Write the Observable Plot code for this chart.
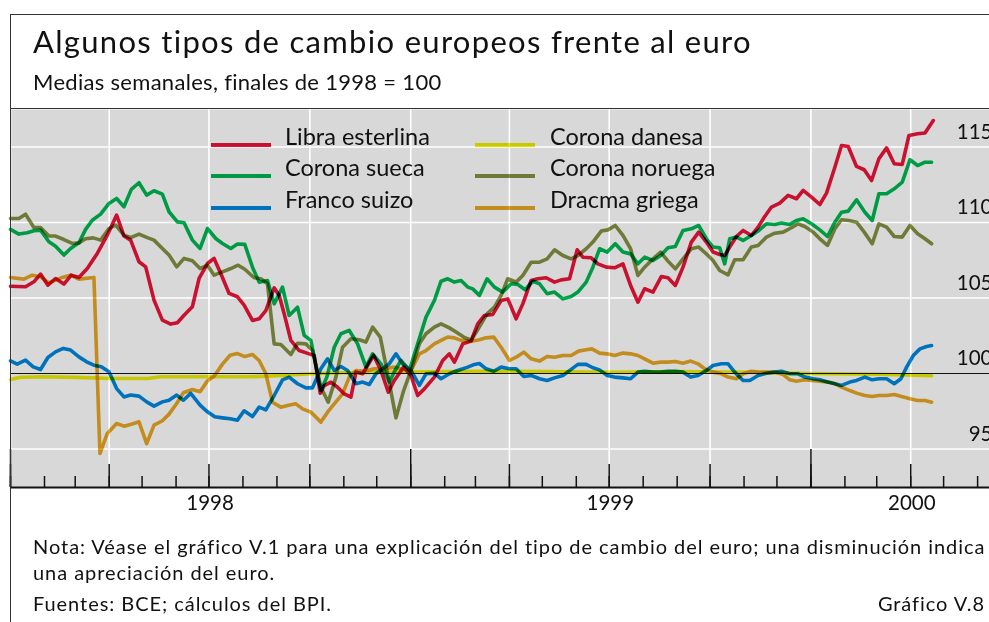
<!DOCTYPE html>
<html><head><meta charset="utf-8">
<script src="https://cdn.jsdelivr.net/npm/d3@7"></script>
<script src="https://cdn.jsdelivr.net/npm/@observablehq/plot@0.6"></script>
<style>
html,body{margin:0;padding:0;background:#fff;overflow:hidden;width:989px;height:622px;}
body{position:relative;font-family:Lato,"Open Sans",sans-serif;color:#111;}
.t{position:absolute;white-space:nowrap;}
</style></head><body>
<div id="chart" style="position:absolute;left:0;top:109px;width:1040px"></div>
<div id="overlay"></div>
<div style="position:absolute;left:10px;top:14px;width:1200px;height:800px;border-top:1.5px solid #333;border-left:1.5px solid #333;pointer-events:none"></div>
<div style="position:absolute;left:10px;top:108px;width:1200px;border-top:1px solid #333"></div>
<script>
// ---- data (months since 1 Jan 1998, index: end-1998 = 100) ----
const seriesNames = ["Libra esterlina","Corona sueca","Franco suizo","Corona danesa","Corona noruega","Dracma griega"];
const seriesColors = ["#ec1337","#00b651","#0087de","#ecec00","#839042","#e7a523"];

const libra = [[0,105.78],[0.45,105.74],[0.7,106.07],[0.9,106.58],[1.12,105.85],[1.35,106.29],[1.6,105.92],[1.82,106.51],[2.05,106.36],[2.3,106.95],[2.6,107.95],[2.9,109.16],[3.18,110.49],[3.4,109.1],[3.6,108.83],[3.85,107.4],[4.05,107.06],[4.3,104.86],[4.55,103.53],[4.8,103.27],[5,103.36],[5.2,103.86],[5.45,104.42],[5.65,106.29],[5.9,107.28],[6.1,107.62],[6.3,106.62],[6.55,105.3],[6.8,105.08],[7,104.53],[7.25,103.51],[7.45,103.62],[7.65,104.17],[7.9,105.67],[8.05,105.17],[8.2,103.95],[8.4,102.19],[8.65,101.52],[8.95,101.3],[9.1,101.19],[9.28,98.7],[9.4,99.2],[9.6,99.43],[9.8,99.09],[10,98.65],[10.2,98.43],[10.35,100.09],[10.55,99.98],[10.88,101.19],[11.1,100.2],[11.32,98.76],[11.5,99.54],[11.78,100.42],[12,99.87],[12.2,98.54],[12.4,98.98],[12.7,99.76],[12.95,100.86],[13.15,101.3],[13.3,100.75],[13.55,101.96],[13.8,102.15],[14,103.29],[14.2,103.84],[14.45,103.91],[14.7,104.83],[14.9,104.94],[15.15,103.62],[15.35,104.61],[15.6,106.16],[15.8,106.27],[16.05,106.34],[16.3,106.05],[16.5,106.2],[16.75,106.27],[16.98,108.19],[17.15,107.7],[17.4,107.66],[17.6,107.26],[17.85,107.04],[18.1,107],[18.35,107.26],[18.58,105.83],[18.8,104.72],[19,105.61],[19.25,105.39],[19.5,106.42],[19.7,106.34],[19.92,105.83],[20.15,107.04],[20.4,108.7],[20.62,109.36],[20.85,108.7],[21.05,108.04],[21.25,107.88],[21.4,107.81],[21.55,108.37],[21.75,109.07],[21.95,109.47],[22.2,109.14],[22.4,109.69],[22.6,110.4],[22.8,111.02],[23.05,111.28],[23.3,111.79],[23.55,111.57],[23.75,112.12],[24,111.68],[24.25,111.19],[24.45,111.94],[24.7,113.66],[24.9,115.1],[25.1,115.03],[25.35,113.71],[25.58,113.49],[25.8,112.78],[26.02,114.22],[26.25,114.94],[26.48,113.89],[26.72,113.84],[26.92,115.76],[27.18,115.87],[27.4,115.92],[27.65,116.75]];

const sueca = [[0,109.54],[0.25,109.23],[0.5,109.32],[0.7,109.45],[0.9,109.49],[1.15,108.72],[1.35,108.43],[1.6,107.84],[1.8,108.28],[2.05,108.65],[2.25,109.54],[2.45,110.15],[2.7,110.55],[2.95,111.26],[3.18,111.59],[3.4,111.04],[3.62,112.19],[3.85,112.63],[4.08,111.81],[4.3,112.1],[4.55,111.88],[4.75,110.71],[5,110.04],[5.2,109.98],[5.45,108.83],[5.68,108.28],[5.9,109.6],[6.15,108.94],[6.35,108.61],[6.6,108.28],[6.8,108.57],[7.02,108.55],[7.25,107.04],[7.45,106.05],[7.7,106.16],[7.9,104.61],[8.15,105.72],[8.35,103.84],[8.6,104.39],[8.8,102.52],[9,102.19],[9.3,98.87],[9.48,99.76],[9.7,101.74],[9.9,102.63],[10.15,102.85],[10.4,101.96],[10.65,100.42],[10.85,101.3],[11.1,100.64],[11.35,99.43],[11.52,100.2],[11.7,100.86],[11.95,100.2],[12.2,101.96],[12.45,103.73],[12.7,104.83],[12.9,106.11],[13.1,106.27],[13.3,106.05],[13.5,106.16],[13.7,105.72],[13.85,105.6],[14.05,105.17],[14.28,106.27],[14.5,105.72],[14.75,105.39],[15,105.94],[15.2,105.89],[15.42,105.54],[15.65,106.11],[15.85,105.94],[16.08,105.28],[16.3,105.39],[16.55,104.94],[16.8,105.1],[17,105.39],[17.25,106.05],[17.45,107.04],[17.65,108.26],[17.88,108.04],[18.12,108.59],[18.35,108.04],[18.58,107.92],[18.8,107.26],[19,107.7],[19.25,107.48],[19.48,107.81],[19.7,108.32],[19.92,108.41],[20.15,109.47],[20.4,109.58],[20.62,109.8],[20.85,108.92],[21.05,108.37],[21.25,108.32],[21.4,107.26],[21.55,108.92],[21.75,109.03],[21.95,108.81],[22.2,109.14],[22.4,109.43],[22.65,109.91],[22.9,109.87],[23.1,109.96],[23.35,109.87],[23.55,110.13],[23.75,110.24],[24,109.91],[24.25,109.51],[24.48,109.07],[24.7,110.02],[24.9,110.68],[25.1,110.75],[25.35,111.5],[25.6,110.68],[25.82,110.13],[26.02,111.9],[26.25,111.9],[26.48,112.23],[26.72,112.67],[26.95,114.15],[27.18,113.77],[27.4,113.99],[27.6,113.99]];

const suizo = [[0,100.84],[0.2,100.62],[0.45,100.88],[0.68,100.44],[0.9,100.26],[1.12,101.06],[1.35,101.43],[1.58,101.66],[1.8,101.55],[2.05,101.1],[2.28,100.77],[2.5,100.55],[2.72,100.44],[2.95,100.11],[3.18,99],[3.4,98.45],[3.6,98.57],[3.85,98.5],[4.08,98.12],[4.3,97.84],[4.55,98.12],[4.75,98.23],[4.98,98.57],[5.18,98.23],[5.4,98.68],[5.68,97.9],[5.9,97.46],[6.12,97.13],[6.35,97.06],[6.58,97],[6.8,96.91],[7,97.53],[7.25,97.15],[7.45,97.77],[7.65,97.59],[7.9,98.54],[8.15,99.58],[8.35,99.76],[8.6,99.32],[8.85,99.05],[9.05,99.05],[9.3,100.31],[9.5,100.97],[9.7,100.2],[9.9,100.46],[10.1,100.2],[10.35,99.32],[10.55,99.43],[10.75,99.27],[10.95,99.98],[11.15,100.31],[11.35,100.64],[11.55,101.3],[11.75,100.64],[12,100.2],[12.25,99.21],[12.45,99.98],[12.7,100.02],[12.9,99.65],[13.15,99.98],[13.4,100.2],[13.7,100.42],[13.9,100.6],[14.05,100.66],[14.25,100.31],[14.48,100.15],[14.7,100.42],[14.95,100.31],[15.15,100.31],[15.38,99.8],[15.6,99.87],[15.85,99.65],[16.08,99.54],[16.3,99.71],[16.55,99.87],[16.78,100.24],[17,100.6],[17.25,100.6],[17.45,100.38],[17.65,100.24],[17.88,99.87],[18.1,99.76],[18.35,99.71],[18.58,99.65],[18.8,100.09],[19,100.15],[19.25,100.09],[19.48,100.09],[19.7,100.15],[19.92,100.15],[20.15,100.09],[20.38,99.76],[20.6,99.87],[20.85,100.2],[21.05,100.53],[21.3,100.64],[21.5,100.64],[21.7,100.09],[21.95,99.54],[22.15,99.54],[22.4,99.87],[22.65,100.02],[22.9,100.09],[23.1,100.15],[23.35,99.98],[23.6,99.98],[23.8,99.76],[24.05,99.65],[24.25,99.58],[24.48,99.43],[24.7,99.32],[24.9,99.21],[25.15,99.43],[25.35,99.54],[25.6,99.76],[25.82,99.58],[26.02,99.65],[26.25,99.65],[26.48,99.32],[26.68,99.65],[26.85,100.42],[27.05,101.19],[27.25,101.63],[27.45,101.79],[27.6,101.85]];

const danesa = [[0,99.6],[0.3,99.75],[1,99.78],[2,99.74],[3,99.67],[4.1,99.67],[4.5,99.78],[6,99.78],[7.2,99.78],[8,99.85],[9,99.98],[10,100.05],[12,100.1],[14,100.15],[16,100.12],[18,100.08],[20,100.12],[22,100.08],[24,100],[26,99.95],[27.6,99.85]];

const noruega = [[0,110.26],[0.25,110.26],[0.45,110.55],[0.7,109.67],[0.9,109.67],[1.15,109.1],[1.35,109.1],[1.6,108.87],[1.85,108.61],[2.05,108.65],[2.25,108.92],[2.48,108.98],[2.7,108.83],[2.95,109.6],[3.15,109.82],[3.4,109.16],[3.6,109],[3.85,109.23],[4.1,109],[4.3,108.83],[4.55,108.28],[4.75,107.84],[4.98,107.06],[5.2,107.62],[5.45,107.46],[5.68,106.95],[5.9,107.17],[6.1,106.51],[6.35,106.73],[6.6,106.95],[6.82,107.17],[7.02,106.9],[7.3,106.34],[7.5,106.27],[7.7,105.94],[7.9,101.96],[8.1,101.92],[8.4,101.26],[8.6,102],[8.85,101.96],[9.05,101.52],[9.3,99.09],[9.52,98.1],[9.75,99.76],[9.95,101.74],[10.2,102.3],[10.45,102.23],[10.65,102.08],[10.85,103.07],[11.08,102.41],[11.3,99.98],[11.55,97.06],[11.78,98.87],[12,100.2],[12.25,101.96],[12.45,102.63],[12.7,103.07],[12.9,103.29],[13.15,103.02],[13.35,102.74],[13.58,102.41],[13.8,102.2],[14,102.9],[14.28,103.95],[14.5,104.39],[14.7,105.17],[14.9,106.27],[15.15,106.05],[15.35,106.49],[15.6,107.37],[15.85,107.37],[16.08,107.59],[16.3,108.19],[16.55,107.81],[16.8,107.59],[17,107.81],[17.25,108.26],[17.45,108.7],[17.7,109.43],[17.9,109.51],[18.12,109.8],[18.35,109.14],[18.58,108.26],[18.8,106.49],[19,107.04],[19.25,107.59],[19.48,108.04],[19.7,107.44],[19.92,106.93],[20.15,107.59],[20.4,108.26],[20.62,108.37],[20.85,107.92],[21.05,107.48],[21.25,106.82],[21.5,106.53],[21.7,107.53],[21.95,107.53],[22.2,108.37],[22.4,108.48],[22.65,109.03],[22.9,109.29],[23.15,109.36],[23.4,109.65],[23.6,109.91],[23.8,109.73],[24.05,109.36],[24.25,108.92],[24.48,108.48],[24.7,109.58],[24.9,110.18],[25.12,110.13],[25.35,110.02],[25.58,109.36],[25.82,108.59],[26.02,109.91],[26.25,109.69],[26.48,109.07],[26.72,109.03],[26.95,109.8],[27.18,109.25],[27.4,108.92],[27.6,108.59]];

const dracma = [[0,106.36],[0.4,106.25],[0.65,106.51],[0.9,106.4],[1.15,106],[1.35,106.18],[1.55,106.36],[1.8,106.51],[2.05,106.25],[2.5,106.36],[2.68,94.7],[2.9,96.03],[3.18,96.69],[3.4,96.51],[3.62,96.64],[3.85,96.8],[4.08,95.36],[4.3,96.58],[4.55,96.87],[4.75,97.31],[4.98,98.01],[5.18,98.72],[5.45,98.94],[5.68,98.79],[5.9,99.51],[6.1,99.82],[6.35,100.62],[6.58,101.21],[6.8,101.32],[7.02,101.12],[7.25,101.26],[7.45,100.86],[7.65,99.98],[7.85,98.1],[8.1,97.77],[8.3,97.88],[8.55,97.99],[8.75,97.66],[9,97.44],[9.3,96.78],[9.5,97.44],[9.7,97.99],[9.95,98.65],[10.15,99.76],[10.35,100.2],[10.6,100.15],[10.9,100.31],[11.2,100.31],[11.5,100.42],[11.7,100.31],[12,100.2],[12.25,101.3],[12.45,101.52],[12.7,101.96],[12.9,102.19],[13.1,102.41],[13.3,102.36],[13.5,102.19],[13.7,102.14],[13.85,102.15],[14.05,102.23],[14.25,102.36],[14.48,102.41],[14.7,101.74],[14.95,100.86],[15.15,101.08],[15.38,101.41],[15.6,100.97],[15.85,100.82],[16.08,101.13],[16.3,101.08],[16.55,101.19],[16.8,101.19],[17.02,101.48],[17.25,101.57],[17.42,101.63],[17.65,101.35],[17.88,101.3],[18.1,101.19],[18.35,101.35],[18.58,101.3],[18.8,101.19],[19,100.97],[19.25,100.68],[19.48,100.75],[19.7,100.75],[19.92,100.79],[20.15,100.68],[20.38,100.82],[20.6,100.64],[20.8,100.31],[21.05,100.09],[21.3,99.98],[21.5,99.76],[21.75,99.65],[21.95,99.98],[22.2,100.15],[22.4,100.09],[22.65,100.09],[22.9,100.09],[23.15,99.93],[23.35,99.58],[23.55,99.49],[23.8,99.58],[24,99.54],[24.25,99.49],[24.5,99.43],[24.7,99.32],[24.9,99.1],[25.15,98.87],[25.35,98.7],[25.6,98.54],[25.82,98.48],[26.02,98.54],[26.25,98.54],[26.48,98.61],[26.7,98.48],[26.95,98.32],[27.18,98.21],[27.4,98.21],[27.6,98.1]];

const allSeries = [libra, sueca, suizo, danesa, noruega, dracma];
const yTickValues = [95, 100, 105, 110, 115];
const gridValues = [95, 105, 110, 115];
const yDomain = [92.45, 117.48];
const yearLabels = [{date: "1998-07-02", label: "1998"}, {date: "1999-07-02", label: "1999"}, {date: "2000-04-02", label: "2000"}];

const titleText = "Algunos tipos de cambio europeos frente al euro";
const subtitleText = "Medias semanales, finales de 1998 = 100";
const noteLines = ["Nota: Véase el gráfico V.1 para una explicación del tipo de cambio del euro; una disminución indica", "una apreciación del euro."];
const sourceText = "Fuentes: BCE; cálculos del BPI.";
const chartId = "Gráfico V.8";

// ---- build ----
const t0 = Date.UTC(1998, 0, 1);
const MONTH = 365.25 / 12 * 864e5;
const toDate = m => new Date(t0 + m * MONTH);
const rows = [];
allSeries.forEach((s, i) => s.forEach(([m, v]) => rows.push({name: seriesNames[i], date: toDate(m), value: v})));

const xStart = new Date(Date.UTC(1998, 0, 1)), xEnd = new Date(Date.UTC(2000, 6, 1));
const monthTicks = d3.utcMonth.range(xStart, d3.utcDay.offset(xEnd, 1));
const quarterTicks = monthTicks.filter(d => d.getUTCMonth() % 3 === 0);
const yearTicks = monthTicks.filter(d => d.getUTCMonth() === 0);
const frameH = 378;

const chart = Plot.plot({
  width: 1040, height: frameH + 34,
  marginLeft: 10, marginRight: 30, marginTop: 0, marginBottom: 34,
  style: {fontFamily: "Lato, sans-serif", fontSize: "20px", background: "transparent", overflow: "visible", maxWidth: "none"},
  x: {type: "utc", domain: [xStart, xEnd], axis: null},
  y: {domain: yDomain, axis: null},
  color: {domain: seriesNames, range: seriesColors},
  marks: [
    Plot.frame({fill: "#d8d8d8", stroke: "none"}),
    Plot.ruleX(quarterTicks, {stroke: "white", strokeWidth: 1.6}),
    Plot.ruleY(gridValues, {stroke: "white", strokeWidth: 1.6}),
    Plot.ruleY([100], {stroke: "#111", strokeWidth: 1.2}),
    Plot.line(rows, {x: "date", y: "value", z: "name", stroke: "name", strokeWidth: 3.6, mixBlendMode: "multiply"}),
    Plot.ruleX(monthTicks, {stroke: "#111", strokeWidth: 1.5, insetTop: frameH - 11}),
    Plot.ruleX(quarterTicks, {stroke: "#111", strokeWidth: 1.5, insetTop: frameH - 23}),
    Plot.ruleX(yearTicks, {stroke: "#111", strokeWidth: 1.5, insetTop: frameH - 38}),
    Plot.ruleY([yDomain[0]], {stroke: "#111", strokeWidth: 2}),
    Plot.text(yTickValues, {y: d => d, text: d => String(d), frameAnchor: "right", textAnchor: "end", lineAnchor: "bottom", dx: -18, dy: -8, fill: "#111", fontSize: 20.5}),
    Plot.text(yearLabels, {x: d => new Date(d.date), text: "label", frameAnchor: "bottom", lineAnchor: "bottom", dy: 22, fill: "#111", fontSize: 20.5})
  ]
});
document.getElementById("chart").append(chart);

// ---- text & legend ----
const overlay = document.getElementById("overlay");
const K = 0.887;
function place(txt, x, baseline, size, ls, anchor) {
  const d = document.createElement("div");
  d.className = "t";
  d.textContent = txt;
  d.style.fontSize = size + "px";
  d.style.lineHeight = size + "px";
  d.style.letterSpacing = (ls || 0) + "px";
  d.style.top = (baseline - K * size) + "px";
  if (anchor === "end") d.style.right = (989 - x) + "px"; else d.style.left = x + "px";
  overlay.append(d);
  return d;
}
place(titleText, 33, 53, 31, 1.3);
place(subtitleText, 33, 91, 22, 0.3);
place(noteLines[0], 33, 554, 20, 0.95);
place(noteLines[1], 33, 580, 20, 0.95);
place(sourceText, 33, 611, 20, 0.95);
place(chartId, 985, 611, 20, 0.95, "end");

const legX = [211, 475], legTextX = [285, 550], legY = [144.5, 175.5, 207.5];
seriesNames.forEach((name, i) => {
  const col = Math.floor(i / 3), row = i % 3;
  const ln = document.createElement("div");
  ln.style.cssText = `position:absolute;left:${legX[col]}px;top:${legY[row] - 2}px;width:60px;height:4px;background:${seriesColors[i]};mix-blend-mode:multiply`;
  overlay.append(ln);
  place(name, legTextX[col], legY[row] + 1.5, 23.5, 0);
});
</script>
</body></html>
